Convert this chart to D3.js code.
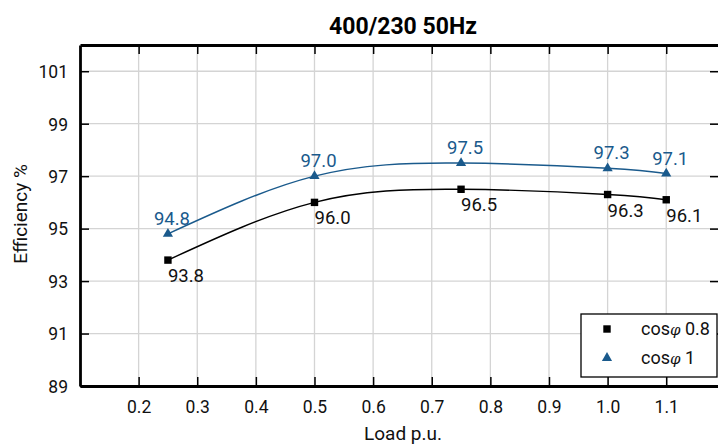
<!DOCTYPE html>
<html>
<head>
<meta charset="utf-8">
<script src="https://cdn.jsdelivr.net/npm/d3@7"></script>
<style>
  body { margin: 0; background: #fff; }
  svg { font-family: "Roboto", "DejaVu Sans Condensed", sans-serif; }
</style>
</head>
<body>
<svg width="718" height="445"></svg>
<script>
const loads = [0.25, 0.5, 0.75, 1.0, 1.1];
const effCos08 = [93.8, 96.0, 96.5, 96.3, 96.1];
const effCos1 = [94.8, 97.0, 97.5, 97.3, 97.1];
const xTicks = [0.2, 0.3, 0.4, 0.5, 0.6, 0.7, 0.8, 0.9, 1.0, 1.1];
const yTicks = [89, 91, 93, 95, 97, 99, 101];

const svg = d3.select("svg");
const plotL = 80, plotR = 719, plotT = 45, plotB = 386;
const blue = "#1a5a8c";

const x = d3.scaleLinear().domain([0.1, 1.19]).range([plotL, plotR]);
const y = d3.scaleLinear().domain([89, 102]).range([plotB, plotT]);

// grid
svg.append("g").selectAll("line").data(xTicks).enter().append("line")
    .attr("x1", d => x(d)).attr("x2", d => x(d))
    .attr("y1", plotT).attr("y2", plotB)
    .attr("stroke", "#d4d4d4").attr("stroke-width", 1.3);
svg.append("g").selectAll("line").data(yTicks).enter().append("line")
    .attr("x1", plotL).attr("x2", plotR)
    .attr("y1", d => y(d)).attr("y2", d => y(d))
    .attr("stroke", "#d4d4d4").attr("stroke-width", 1.3);

// axes (ticks pointing inward)
const xAxis = svg.append("g").attr("transform", `translate(0,${plotB})`)
    .call(d3.axisBottom(x).tickValues(xTicks).tickSizeInner(-9).tickSizeOuter(0).tickPadding(15)
        .tickFormat(d3.format(".1f")));
const xTop = svg.append("g").attr("transform", `translate(0,${plotT})`)
    .call(d3.axisTop(x).tickValues(xTicks).tickSizeInner(-9).tickSizeOuter(0).tickFormat(""));
const yAxis = svg.append("g").attr("transform", `translate(${plotL},0)`)
    .call(d3.axisLeft(y).tickValues(yTicks).tickSizeInner(-9).tickSizeOuter(0).tickPadding(12));
const yRight = svg.append("g").attr("transform", `translate(${plotR},0)`)
    .call(d3.axisRight(y).tickValues(yTicks).tickSizeInner(-9).tickSizeOuter(0).tickFormat(""));

[xAxis, xTop, yAxis, yRight].forEach(g => {
    g.select(".domain").attr("stroke", "#000").attr("stroke-width", 2.8);
    g.selectAll(".tick line").attr("stroke", "#000").attr("stroke-width", 1.5);
    g.selectAll(".tick text").attr("font-size", 17.5).attr("fill", "#111")
        .attr("font-family", "Roboto, sans-serif");
});
yAxis.selectAll(".tick text").attr("dy", "0.36em");

// curves
const line = d3.line().x(d => x(d[0])).y(d => y(d[1])).curve(d3.curveNatural);
const pts08 = loads.map((l, i) => [l, effCos08[i]]);
const pts1 = loads.map((l, i) => [l, effCos1[i]]);

svg.append("path").datum(pts08).attr("d", line)
    .attr("fill", "none").attr("stroke", "#000").attr("stroke-width", 1.4);
svg.append("path").datum(pts1).attr("d", line)
    .attr("fill", "none").attr("stroke", blue).attr("stroke-width", 1.4);

const sq = d3.symbol().type(d3.symbolSquare).size(55);
const tri = d3.symbol().type(d3.symbolTriangle).size(45);

svg.append("g").selectAll("path").data(pts08).enter().append("path")
    .attr("d", sq).attr("transform", d => `translate(${x(d[0])},${y(d[1])})`)
    .attr("fill", "#000");
svg.append("g").selectAll("path").data(pts1).enter().append("path")
    .attr("d", tri).attr("transform", d => `translate(${x(d[0])},${y(d[1])})`)
    .attr("fill", blue);

// value labels
svg.append("g").selectAll("text").data(pts08).enter().append("text")
    .attr("x", d => x(d[0]))
    .attr("y", d => y(d[1]) + 22)
    .attr("font-size", 18.5).attr("fill", "#111")
    .text(d => d[1].toFixed(1));
svg.append("g").selectAll("text").data(pts1).enter().append("text")
    .attr("x", d => x(d[0]) + 4)
    .attr("y", d => y(d[1]) - 9)
    .attr("text-anchor", "middle")
    .attr("font-size", 18.5).attr("fill", blue)
    .text(d => d[1].toFixed(1));

// title and axis labels
svg.append("text").attr("x", 403).attr("y", 34).attr("text-anchor", "middle")
    .attr("font-size", 23).attr("font-weight", "bold").text("400/230 50Hz");
svg.append("text").attr("x", 403).attr("y", 440).attr("text-anchor", "middle")
    .attr("font-size", 19).attr("fill", "#111").text("Load p.u.");
svg.append("text").attr("transform", "translate(27,214) rotate(-90)")
    .attr("text-anchor", "middle").attr("font-size", 19).attr("fill", "#111")
    .text("Efficiency %");

// legend
const lg = svg.append("g");
lg.append("rect").attr("x", 581).attr("y", 314).attr("width", 136).attr("height", 63)
    .attr("fill", "#fff").attr("stroke", "#000").attr("stroke-width", 1.3);
const legendItems = [
    { sym: sq, color: "#000", label: " 0.8", yy: 329 },
    { sym: tri, color: blue, label: " 1", yy: 358 }
];
legendItems.forEach(it => {
    lg.append("path").attr("d", it.sym).attr("transform", `translate(607,${it.yy})`)
        .attr("fill", it.color);
    const t = lg.append("text").attr("x", 641).attr("y", it.yy + 6)
        .attr("font-size", 18).attr("fill", "#111");
    t.append("tspan").text("cos");
    t.append("tspan").attr("font-style", "italic").attr("font-family", "DejaVu Serif")
        .attr("font-size", 15).text("φ");
    t.append("tspan").text(it.label);
});
</script>
</body>
</html>
